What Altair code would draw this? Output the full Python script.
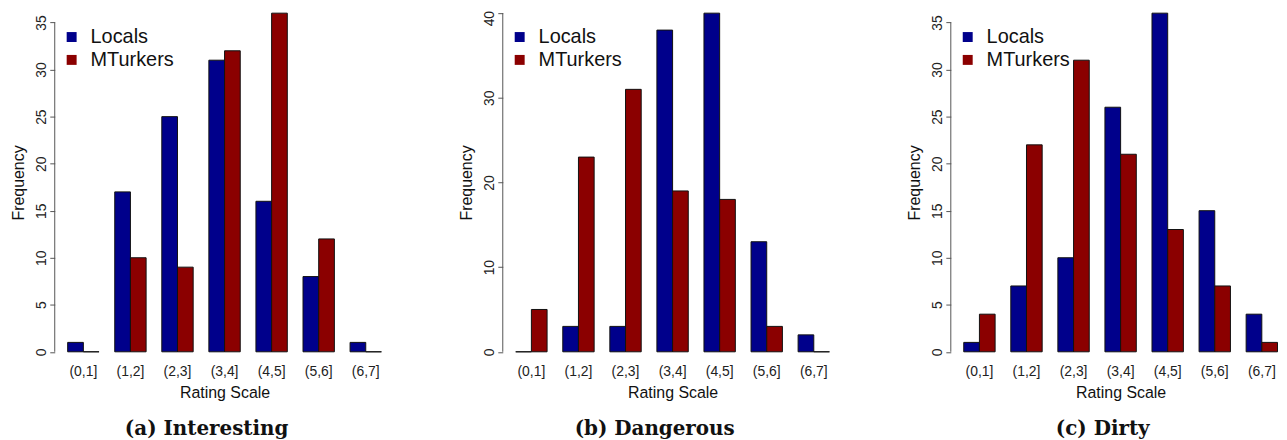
import altair as alt
import pandas as pd

BINS = ["(0,1]", "(1,2]", "(2,3]", "(3,4]", "(4,5]", "(5,6]", "(6,7]"]
GROUPS = ["Locals", "MTurkers"]
GROUP_COLORS = ["#00008B", "#8B0000"]

INTERESTING_LOCALS = [1, 17, 25, 31, 16, 8, 1]
INTERESTING_MTURKERS = [0, 10, 9, 32, 36, 12, 0]
DANGEROUS_LOCALS = [0, 3, 3, 38, 40, 13, 2]
DANGEROUS_MTURKERS = [5, 23, 31, 19, 18, 3, 0]
DIRTY_LOCALS = [1, 7, 10, 26, 36, 15, 4]
DIRTY_MTURKERS = [4, 22, 31, 21, 13, 7, 1]

CAPTIONS = ["(a) Interesting", "(b) Dangerous", "(c) Dirty"]
TICKS_A = [0, 5, 10, 15, 20, 25, 30, 35]
TICKS_B = [0, 10, 20, 30, 40]
TICKS_C = [0, 5, 10, 15, 20, 25, 30, 35]
Y_MAX = [36, 40, 36]

SANS = "Liberation Sans"
SERIF = "DejaVu Serif"
AXIS_GRAY = "#555555"
TEXT = "#111111"


def panel(loc, mt, caption, ticks, ymax, top_shift):
    df = pd.DataFrame({
        "bin": BINS + BINS,
        "group": [GROUPS[0]] * len(BINS) + [GROUPS[1]] * len(BINS),
        "freq": loc + mt,
    })
    yscale = alt.Scale(domain=[0, ymax], nice=False, zero=True)
    label_offset = {"condition": {"test": f"datum.value === {ticks[-1]}", "value": top_shift}, "value": 0}
    y_axis = alt.Axis(values=ticks, title="Frequency", domain=False, offset=13, grid=False,
                      tickSize=5, tickColor=AXIS_GRAY, tickWidth=1,
                      labelAngle=-90, labelAlign="center", labelBaseline="bottom",
                      labelPadding=1, labelFont=SANS, labelFontSize=14, labelColor="#222222",
                      labelOffset=label_offset,
                      titleFont=SANS, titleFontSize=16, titleFontWeight="normal",
                      titleColor=TEXT, titlePadding=8)
    bars = alt.Chart(df).mark_bar(stroke=TEXT, strokeWidth=1).encode(
        x=alt.X("bin:N", sort=BINS,
                scale=alt.Scale(domain=BINS, paddingInner=1 / 3, paddingOuter=0),
                axis=alt.Axis(title="Rating Scale", labelAngle=0, ticks=False, tickSize=0, domain=False,
                              labelFont=SANS, labelFontSize=14, labelColor="#222222", labelPadding=13,
                              titleFont=SANS, titleFontSize=16, titleFontWeight="normal",
                              titleColor=TEXT, titlePadding=6)),
        xOffset=alt.XOffset("group:N", sort=GROUPS,
                            scale=alt.Scale(domain=GROUPS, paddingInner=0, paddingOuter=0)),
        y=alt.Y("freq:Q", scale=yscale, axis=y_axis),
        color=alt.Color("group:N", sort=GROUPS,
                        scale=alt.Scale(domain=GROUPS, range=GROUP_COLORS),
                        legend=alt.Legend(title=None, orient="none", legendX=-6, legendY=14,
                                          symbolType="square", symbolSize=100, symbolStrokeWidth=0,
                                          labelFont=SANS, labelFontSize=20, labelColor=TEXT,
                                          labelOffset=9, rowPadding=3, padding=0)),
    )
    edge = pd.DataFrame({"lo": [ticks[0]], "hi": [ticks[-1]]})
    rule = alt.Chart(edge).mark_rule(color=AXIS_GRAY, strokeWidth=1).encode(
        x=alt.value(-13),
        y=alt.Y("lo:Q", scale=yscale, title="Frequency"),
        y2="hi:Q",
    )
    return alt.layer(bars, rule).properties(
        width=315.5,
        height=340.5,
        title=alt.TitleParams(caption, orient="bottom", anchor="middle", font=SERIF, fontSize=20,
                              fontWeight="bold", color=TEXT, dx=-18, offset=19),
    )


pa = panel(INTERESTING_LOCALS, INTERESTING_MTURKERS, CAPTIONS[0], TICKS_A, Y_MAX[0], 0)
pb = panel(DANGEROUS_LOCALS, DANGEROUS_MTURKERS, CAPTIONS[1], TICKS_B, Y_MAX[1], 5)
pc = panel(DIRTY_LOCALS, DIRTY_MTURKERS, CAPTIONS[2], TICKS_C, Y_MAX[2], 0)

chart = alt.hconcat(pa, pb, pc, spacing=134.5, bounds="flush").resolve_scale(
    x="independent", y="independent", color="shared"
).resolve_legend(color="independent").configure_view(stroke="transparent").properties(
    padding={"left": 2, "top": 0, "right": 0, "bottom": 0}
)

chart.save("out.html", embed_options={"renderer": "svg", "actions": False})
